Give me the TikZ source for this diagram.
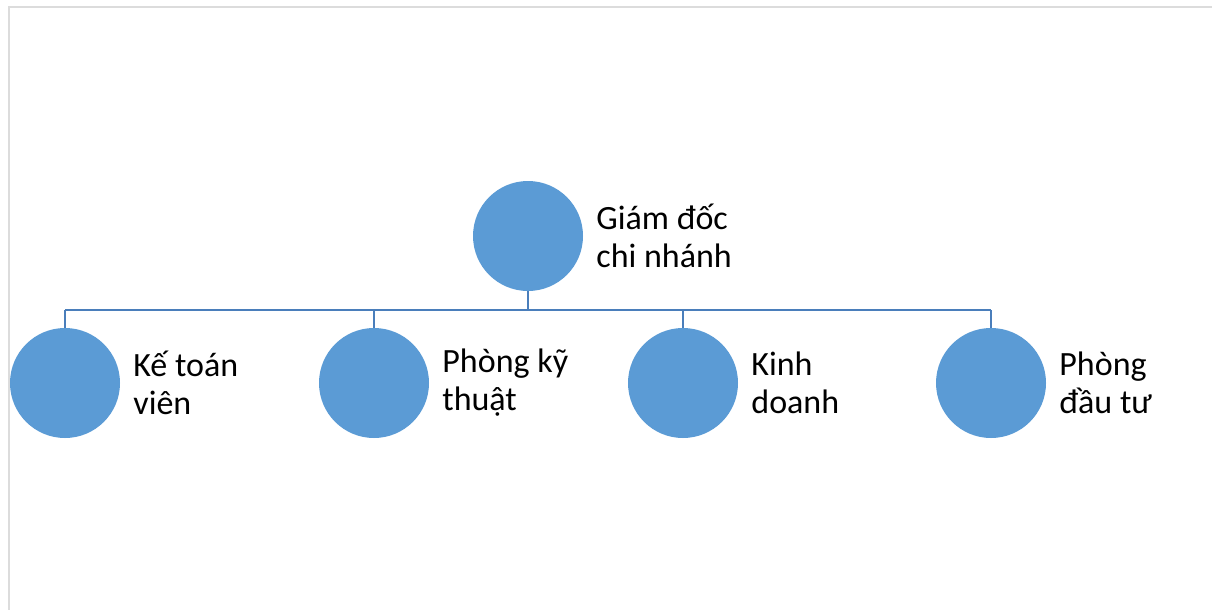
\documentclass[tikz,border=0pt]{standalone}
\usepackage{fontspec}
\setmainfont{Carlito}
\usetikzlibrary{positioning,calc}
\definecolor{Disc}{HTML}{5B9BD5}
\definecolor{Wire}{HTML}{4A7EBB}
\definecolor{Frame}{HTML}{DCDCDC}

\tikzset{
  unit/.style={circle,fill=Disc,minimum size=110pt,inner sep=0pt},
  lbl/.style={align=left,anchor=west,inner sep=0pt,font=\fontsize{34}{38}\selectfont},
  link/.style={Wire,line width=2pt}
}

\begin{document}
\begin{tikzpicture}[x=1pt,y=-1pt]
  \useasboundingbox (0,0) rectangle (1212,610);
  \draw[Frame,line width=2pt] (9,610) -- (9,7) -- (1212,7);

  \node[unit] (gd) at (528,236) {};
  \node[lbl,right=13pt of gd] (gdt) {Giám đốc\\chi nhánh};

  \node[unit] (kt) at (65,383) {};
  \node[unit] (pk) at (374,383) {};
  \node[unit] (kd) at (683,383) {};
  \node[unit] (dt) at (991,383) {};
  \node[lbl,right=13pt of kt] (ktt) {Kế toán\\viên};
  \node[lbl,right=13pt of pk] (pkt) {Phòng kỹ\\thuật};
  \node[lbl,right=13pt of kd] (kdt) {Kinh\\doanh};
  \node[lbl,right=13pt of dt] (dtt) {Phòng\\đầu tư};

  \coordinate (bus) at (528,310);
  \draw[link] (gd.south) -- (bus);
  \draw[link] (kt.north |- bus) -- (dt.north |- bus);
  \foreach \n in {kt,pk,kd,dt}
    \draw[link] (\n.north) -- (\n.north |- bus);
\end{tikzpicture}
\end{document}
